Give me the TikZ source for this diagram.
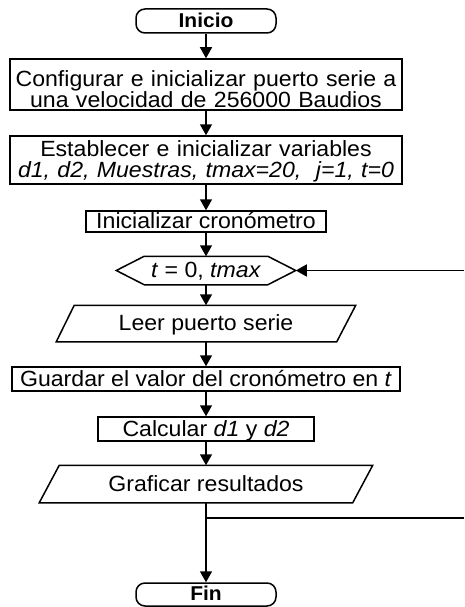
\documentclass[tikz,border=0pt]{standalone}
\usepackage{fontspec}
\setmainfont{Liberation Sans}[FakeStretch=1.05]
\usetikzlibrary{arrows.meta}
\begin{document}
\begin{tikzpicture}[x=1pt,y=-1pt,line width=1.5pt,
  txt/.style={font=\fontsize{22}{21}\selectfont},
  box/.style={txt,draw,rectangle,inner sep=0pt,text height=15pt,text depth=1pt},
  boxtwo/.style={txt,draw,rectangle,inner sep=0pt,text width=390pt,align=center},
  term/.style={draw,rectangle,rounded corners=9pt,minimum width=140pt,inner sep=0pt,
    font=\fontsize{20}{20}\selectfont\bfseries,text height=13.6pt,text depth=1pt},
  shapebox/.style={txt,rectangle,inner sep=0pt,text height=15pt,text depth=1pt},
  arr/.style={-{Triangle[width=12pt,length=11pt]}}]
\useasboundingbox (0,0) rectangle (464,607);

\node[term,minimum height=24pt] (inicio) at (206,21) {Inicio};
\node[boxtwo,minimum width=392pt,minimum height=51pt,text height=25pt,text depth=21pt] (b1) at (206,84.5)
  {Configurar e inicializar puerto serie a\\una velocidad de 256000 Baudios};
\node[boxtwo,minimum width=392pt,minimum height=48pt,text height=16pt,text depth=24pt] (b2) at (206,160)
  {Establecer e inicializar variables\\\textit{d1, d2, Muestras, tmax=20,\ \ j=1, t=0}};
\node[box,minimum width=240pt,minimum height=21pt] (b3) at (206,221.5) {Inicializar cronómetro};
\node[shapebox,minimum width=178pt,minimum height=27pt] (hex) at (206,270.5) {\textit{t} = 0, \textit{tmax}};
\draw (hex.west) -- ([xshift=28pt]hex.north west) -- ([xshift=-28pt]hex.north east) -- (hex.east)
  -- ([xshift=-28pt]hex.south east) -- ([xshift=28pt]hex.south west) -- cycle;
\node[shapebox,minimum width=298pt,minimum height=35pt] (leer) at (206,323.5) {Leer puerto serie};
\draw ([xshift=18pt]leer.north west) -- (leer.north east) -- ([xshift=-19pt]leer.south east)
  -- (leer.south west) -- cycle;
\node[box,minimum width=388pt,minimum height=24pt] (guardar) at (206,379) {Guardar el valor del cronómetro en \textit{t}};
\node[box,minimum width=216pt,minimum height=24pt] (calc) at (206,429) {Calcular \textit{d1} y \textit{d2}};
\node[shapebox,minimum width=332pt,minimum height=36pt] (graf) at (206,484) {Graficar resultados};
\draw ([xshift=20pt]graf.north west) -- (graf.north east) -- ([xshift=-20pt]graf.south east)
  -- (graf.south west) -- cycle;
\node[term,minimum height=23pt] (fin) at (206,594.5) {Fin};

\coordinate (br) at (206,518);
\coordinate (brR) at (464,518);
\coordinate (loopR) at (464,270.5);

\draw[arr] (inicio) -- (b1);
\draw[arr] (b1) -- (b2);
\draw[arr] (b2) -- (b3);
\draw[arr] (b3) -- (hex);
\draw[arr] (hex) -- (leer);
\draw[arr] (leer) -- (guardar);
\draw[arr] (guardar) -- (calc);
\draw[arr] (calc) -- (graf);
\draw[arr] (graf) -- (fin);
\draw (br) -- (brR);
\draw[arr] (loopR) -- (hex.east);
\end{tikzpicture}
\end{document}
